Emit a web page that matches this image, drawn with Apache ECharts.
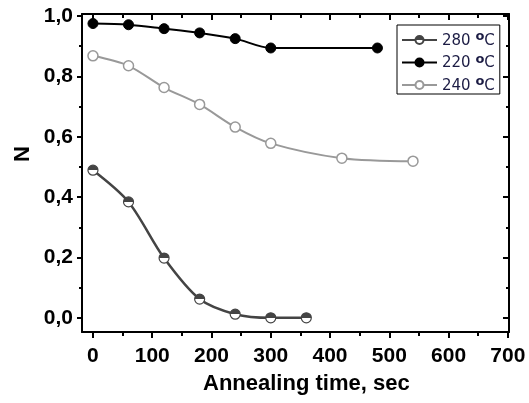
<!DOCTYPE html>
<html lang="en">
<head>
    <meta charset="utf-8">
    <title>Annealing time</title>
    <script type="text/javascript" src="https://cdn.jsdelivr.net/npm/echarts@6/dist/echarts.min.js"></script>
    <style>
        html, body { margin: 0; padding: 0; background: #fff; }
        #main { width: 529px; height: 403px; }
    </style>
</head>
<body>
<div id="main"></div>
<script>
    // data
    var names = ['280 °C', '220 °C', '240 °C'];
    var t280 = [0, 60, 120, 180, 240, 300, 360];
    var n280 = [0.489, 0.384, 0.198, 0.062, 0.012, 0.0, 0.0];
    var t220 = [0, 60, 120, 180, 240, 300, 480];
    var n220 = [0.975, 0.971, 0.958, 0.944, 0.925, 0.894, 0.894];
    var t240 = [0, 60, 120, 180, 240, 300, 420, 540];
    var n240 = [0.868, 0.835, 0.763, 0.707, 0.632, 0.578, 0.529, 0.519];

    var xTicks = [0, 100, 200, 300, 400, 500, 600, 700];
    var xMinor = [50, 150, 250, 350, 450, 550, 650];
    var yTicks = [0, 0.2, 0.4, 0.6, 0.8, 1.0];
    var yMinor = [0.1, 0.3, 0.5, 0.7, 0.9];

    function pairs(xs, ys) {
        var out = [];
        for (var i = 0; i < xs.length; i++) out.push([xs[i], ys[i]]);
        return out;
    }

    var xMin = -18.5, xMax = 702, yMin = -0.047, yMax = 1.0066;
    var black = '#000';

    // one axis def for ticks only (frame / minor ticks)
    function xAx(pos, vals, len, inside, line, labels) {
        return {
            type: 'value', position: pos, min: xMin, max: xMax,
            splitLine: {show: false},
            axisLine: {show: line, onZero: false, lineStyle: {color: black, width: 2}},
            axisTick: {show: true, customValues: vals, length: len, inside: inside,
                lineStyle: {color: black, width: 2}},
            axisLabel: labels ? {
                customValues: xTicks, margin: 14, color: '#000',
                fontFamily: 'Liberation Sans', fontWeight: 'bold', fontSize: 21
            } : {show: false}
        };
    }
    function yAx(pos, vals, len, inside, line, labels) {
        return {
            type: 'value', position: pos, min: yMin, max: yMax,
            splitLine: {show: false},
            axisLine: {show: line, onZero: false, lineStyle: {color: black, width: 2}},
            axisTick: {show: true, customValues: vals, length: len, inside: inside,
                lineStyle: {color: black, width: 2}},
            axisLabel: labels ? {
                customValues: yTicks, margin: 9, color: '#000',
                fontFamily: 'Liberation Sans', fontWeight: 'bold', fontSize: 21,
                formatter: function (v) { return v.toFixed(1).replace('.', ','); }
            } : {show: false}
        };
    }

    var half = {
        type: 'linear', x: 0, y: 0, x2: 0, y2: 1,
        colorStops: [
            {offset: 0, color: '#444'}, {offset: 0.5, color: '#444'},
            {offset: 0.5, color: '#fff'}, {offset: 1, color: '#fff'}
        ]
    };

    var myChart = echarts.init(document.getElementById('main'));
    var option = {
        animation: false,
        grid: {left: 82, top: 14, right: 20, bottom: 71},
        xAxis: [
            xAx('bottom', xTicks, 6, false, true, true),
            xAx('bottom', xMinor, 4, false, false, false),
            xAx('top', xTicks, 6, true, true, false),
            xAx('top', xMinor, 4, true, false, false)
        ],
        yAxis: [
            yAx('left', yTicks, 5, false, true, true),
            yAx('left', yMinor, 3, false, false, false),
            yAx('right', yTicks, 6, true, true, false),
            yAx('right', yMinor, 3, true, false, false)
        ],
        legend: {
            orient: 'vertical', left: 397, top: 25,
            data: names,
            itemWidth: 35, itemHeight: 10, itemGap: 4.5,
            padding: [5.5, 5, 0.5, 4],
            borderColor: '#000', borderWidth: 1, borderRadius: 0,
            backgroundColor: '#fff',
            formatter: function (name) {
                var p = name.split(' ');
                return '{a|' + p[0] + ' }{s|o}{a|C}';
            },
            textStyle: {
                rich: {
                    a: {fontFamily: 'DejaVu Sans', fontSize: 15, color: '#1c1c44',
                        padding: [3, 0, 1, 0], verticalAlign: 'bottom'},
                    s: {fontFamily: 'DejaVu Sans', fontSize: 13, fontWeight: 'bold', color: '#1c1c44',
                        verticalAlign: 'top'}
                }
            }
        },
        graphic: [{
            type: 'text', left: 12, top: 146, rotation: Math.PI / 2,
            style: {text: 'N', font: 'bold 22px "Liberation Sans"', fill: '#000'}
        }, {
            type: 'text', left: 203, top: 373,
            style: {text: 'Annealing time, sec', font: 'bold 22px "Liberation Sans"', fill: '#000'}
        }],
        series: [
            {
                name: names[2], type: 'line', smooth: 0.3,
                data: pairs(t240, n240),
                symbol: 'circle', symbolSize: 10,
                lineStyle: {color: '#999', width: 2},
                itemStyle: {color: '#fff', borderColor: '#999', borderWidth: 1.5}
            },
            {
                name: names[1], type: 'line', smooth: 0.3,
                data: pairs(t220, n220),
                symbol: 'circle', symbolSize: 10,
                lineStyle: {color: '#000', width: 2},
                itemStyle: {color: '#000', borderColor: '#000', borderWidth: 1}
            },
            {
                name: names[0], type: 'line', smooth: 0.3,
                data: pairs(t280, n280),
                symbol: 'circle', symbolSize: 10,
                lineStyle: {color: '#444', width: 2.5},
                itemStyle: {color: half, borderColor: '#444', borderWidth: 1.2}
            }
        ]
    };
    myChart.setOption(option);
</script>
</body>
</html>
